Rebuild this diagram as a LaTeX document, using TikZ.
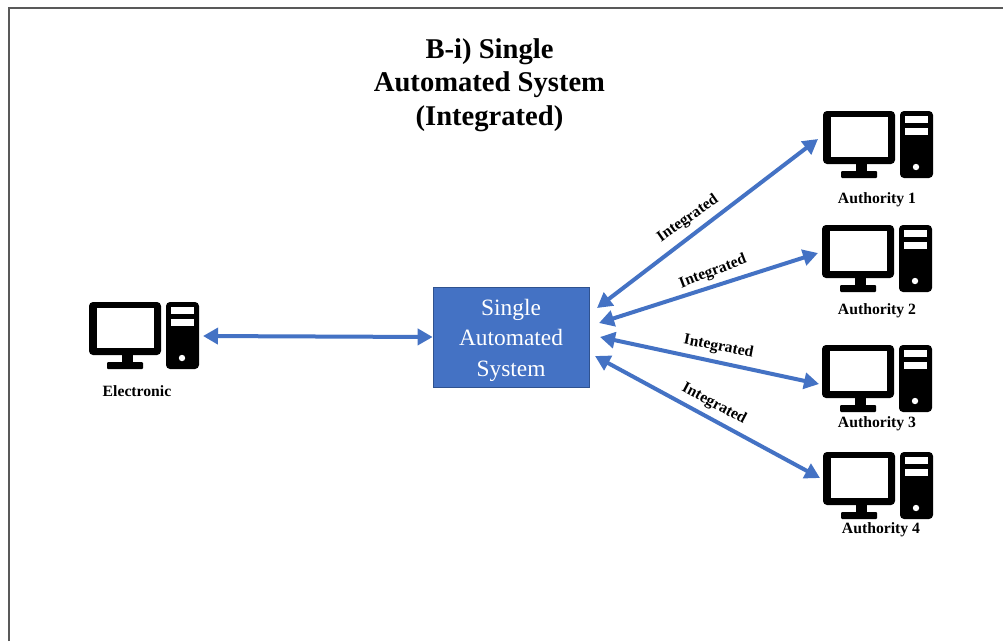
\documentclass[tikz,border=0pt]{standalone}
\usepackage{fontspec}
\setmainfont{Liberation Serif}
\usetikzlibrary{arrows.meta}
\definecolor{blueA}{HTML}{4472C4}
\definecolor{blueB}{HTML}{2F528F}
\tikzset{
  x=1pt,y=-1pt,
  link/.style={draw=blueA,line width=4pt,{Triangle[length=15pt,width=16pt]}-{Triangle[length=15pt,width=16pt]}},
  lab/.style={font=\bfseries\fontsize{15.7}{18}\selectfont,inner sep=0pt,text=black},
  computer/.pic={
    \fill[black,rounded corners=4pt] (0,0) rectangle (72,53);
    \fill[white] (8,6) rectangle (65,46);
    \fill[black] (33,53) rectangle (44,60);
    \fill[black,rounded corners=1pt] (18,60) rectangle (54,67);
    \fill[black,rounded corners=4pt] (77,0) rectangle (110,67);
    \fill[white] (82,5) rectangle (105,12);
    \fill[white] (82,17) rectangle (105,24);
    \fill[white] (93,56) circle (3.2);
  }
}
\begin{document}
\begin{tikzpicture}
\useasboundingbox (0,0) rectangle (1003,641);
\fill[white] (0,0) rectangle (1003,641);
\draw[draw=black!65,line width=1.3pt] (9,641) -- (9,8) -- (1003,8);

\node[font=\bfseries\fontsize{28.6}{33.7}\selectfont,align=center,inner sep=0pt] (title) at (489.5,85) {B-i) Single\\Automated System\\(Integrated)};

\node[draw=blueB,line width=0.7pt,fill=blueA,minimum width=156pt,minimum height=100pt,inner sep=0pt,
  label={[text=white,align=center,inner sep=0pt,yshift=-3pt,font=\fontsize{23.4}{30.5}\selectfont]center:Single\\Automated\\System}] (sys) at (511,337) {};

\pic at (89,302) {computer};
\pic at (823,111) {computer};
\pic at (822,225) {computer};
\pic at (822,345) {computer};
\pic at (823,452) {computer};

\node[lab] (el) at (137,391) {Electronic};
\node[lab] (a1) at (877,199.5) {Authority 1};
\node[lab] (a2) at (877,310.5) {Authority 2};
\node[lab] (a3) at (877,423.5) {Authority 3};
\node[lab] (a4) at (881,529.5) {Authority 4};

\coordinate (pcE) at (203,336);
\coordinate (pc1) at (818,139);
\coordinate (pc2) at (818,253);
\coordinate (pc3) at (819,384);
\coordinate (pc4) at (820,478);
\coordinate (s1) at (597,308);
\coordinate (s2) at (599,323);
\coordinate (s3) at (600,337);
\coordinate (s4) at (595,356);

\draw[link] (pcE) -- (sys.west);
\draw[link] (s1) -- (pc1);
\draw[link] (s2) -- (pc2);
\draw[link] (s3) -- (pc3);
\draw[link] (s4) -- (pc4);

\node[lab,rotate=35] (i1) at (688,219) {Integrated};
\node[lab,rotate=21] (i2) at (713,272) {Integrated};
\node[lab,rotate=-11] (i3) at (718.5,347) {Integrated};
\node[lab,rotate=-28] (i4) at (714,404) {Integrated};
\end{tikzpicture}
\end{document}
